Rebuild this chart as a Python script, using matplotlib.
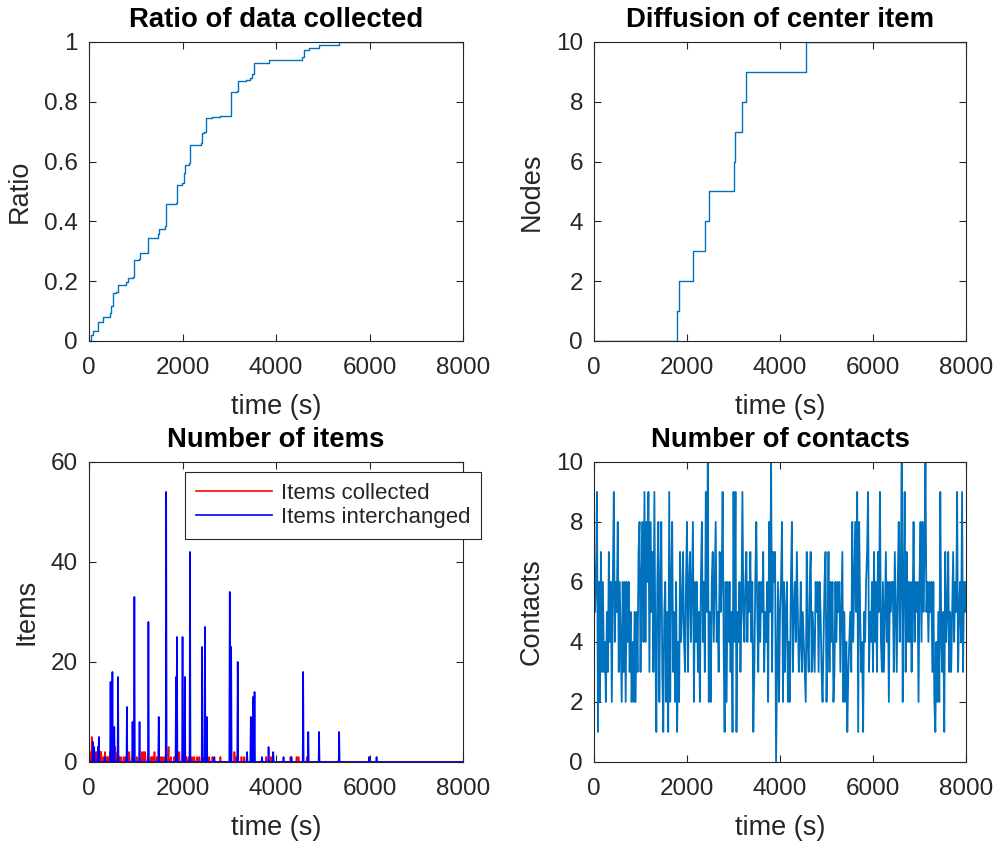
import numpy as np
import matplotlib
matplotlib.use("Agg")
import matplotlib.pyplot as plt

plt.rcParams['font.family'] = ['Liberation Sans', 'DejaVu Sans']

# ratio of data collected (step curve)
ratio_t = [0, 40, 86, 193, 300, 444, 480, 515, 587, 622, 801, 823, 930, 966, 1073, 1095,
           1252, 1267, 1467, 1495, 1631, 1646, 1860, 1882, 1997, 2039, 2061, 2140, 2161,
           2390, 2426, 2462, 2497, 2626, 2800, 3041, 3163, 3184, 3363, 3449, 3485, 3535,
           3807, 3843, 4308, 4558, 4594, 4701, 4916, 5345, 8000]
ratio = [0.0, 0.02, 0.035, 0.065, 0.08, 0.092, 0.117, 0.159, 0.165, 0.187, 0.198, 0.212,
         0.215, 0.27, 0.273, 0.293, 0.307, 0.344, 0.357, 0.373, 0.384, 0.457, 0.463, 0.523,
         0.529, 0.562, 0.588, 0.596, 0.654, 0.663, 0.694, 0.698, 0.744, 0.749, 0.752, 0.832,
         0.835, 0.869, 0.872, 0.881, 0.894, 0.928, 0.931, 0.939, 0.941, 0.948, 0.972, 0.981,
         0.989, 1.0, 1.0]

# diffusion of center item
diff_t = [0, 1789, 1832, 2132, 2397, 2469, 3005, 3034, 3177, 3263, 4565, 8000]
nodes = [0, 1, 2, 3, 4, 5, 6, 7, 8, 9, 10, 10]

# items collected (red) and interchanged (blue) events
coll_t = [22, 57, 79, 114, 150, 186, 235, 257, 307, 342, 378, 414, 449, 506, 556, 613, 649,
          685, 735, 777, 863, 934, 1020, 1134, 1170, 1205, 1255, 1326, 1362, 1405, 1448,
          1519, 1562, 1612, 1704, 1754, 1825, 1932, 2075, 2132, 2203, 2253, 2310, 2360,
          2432, 2517, 2574, 2645, 2809, 3109, 3145, 3259, 3323, 3501, 3786, 3893, 3886,
          4314, 4442, 4485, 4656]
coll_n = [2, 5, 4, 2, 2, 3, 2, 2, 1, 2, 1, 1, 2, 1, 3, 2, 1,
          1, 1, 1, 2, 1, 1, 2, 2, 2, 1, 1, 1, 2, 1,
          1, 1, 1, 3, 1, 1, 2, 1, 1, 1, 1, 1, 1,
          1, 1, 1, 1, 1, 2, 1, 1, 1, 1, 1, 1, 1,
          1, 1, 1, 1]
inter_t = [79, 110, 186, 207, 340, 458, 501, 537, 615, 809, 930, 973, 1081, 1267, 1488,
           1646, 1861, 1882, 2004, 2054, 2161, 2419, 2476, 2519, 2676, 3013, 3041, 3184,
           3378, 3463, 3506, 3542, 3700, 3836, 3943, 4158, 4329, 4580, 4694, 4916, 5353,
           5990, 6154]
inter_n = [4, 3, 3, 5, 1, 16, 18, 7, 17, 11, 8, 33, 8, 28, 9,
           54, 17, 25, 25, 17, 42, 23, 27, 9, 1, 34, 23, 20,
           2, 9, 13, 14, 1, 3, 2, 1, 1, 18, 6, 6, 6,
           1, 1]

# number of contacts, one sample per ~21 s
contacts = [
    7, 5, 6, 9, 1, 6, 2, 7, 3, 6, 3, 4, 2, 5, 3, 7, 4, 6, 2, 6, 9, 4, 6, 5, 8, 3, 6, 4, 2, 6,
    3, 6, 2, 6, 4, 6, 3, 5, 2, 4, 2, 5, 2, 5, 3, 7, 8, 3, 6, 8, 4, 9, 4, 8, 6, 9, 3, 8, 5, 7,
    3, 9, 4, 1, 6, 8, 2, 6, 8, 3, 1, 5, 6, 2,
    5, 1, 9, 2, 6, 8, 3, 5, 2, 6, 1, 4, 2, 7, 4, 5, 7, 4, 3, 6, 8, 3, 6, 7, 4, 6, 8, 2, 6, 4,
    6, 3, 5, 2, 6, 8, 4, 6, 3, 9, 5, 10, 2, 5, 2, 6, 7, 4, 6, 8, 4, 5, 3, 7, 5, 6, 9, 4, 1, 6,
    2, 6, 4, 6, 3, 5, 1, 9, 4, 9, 1, 5, 4, 6, 3, 5,
    9, 5, 4, 6, 7, 4, 6, 5, 7, 4, 6, 1, 3, 6, 8, 5, 3, 6, 4, 6, 5, 7, 3, 5, 4, 6, 2, 8, 5, 10,
    3, 7, 6, 7, 0, 3, 6, 2, 5, 6, 8, 2, 6, 3, 5, 6, 2, 4, 2, 6, 8, 3, 5, 6, 4, 7, 5, 3, 4, 6,
    3, 5, 4, 3, 2, 7, 4, 3, 6, 7, 3, 5, 4, 3, 6, 5,
    6, 3, 6, 5, 3, 2, 4, 6, 7, 2, 4, 7, 3, 6, 4, 6, 2, 3, 6, 4, 6, 5, 6, 3, 5, 7, 2, 5, 2, 4,
    1, 3, 4, 5, 3, 8, 4, 6, 8, 5, 9, 1, 8, 5, 3, 4, 1, 5, 4, 6, 7, 9, 3, 5, 4, 6, 3, 7, 4, 6,
    3, 7, 5, 9, 4, 3, 6, 3, 5, 7, 4, 6, 2, 6, 5, 6,
    6, 3, 7, 5, 3, 6, 8, 4, 6, 10, 2, 6, 9, 3, 7, 4, 6, 4, 6, 3, 5, 8, 4, 6, 5, 6, 2, 6, 8, 4,
    8, 5, 7, 10, 5, 6, 4, 6, 5, 6, 3, 6, 2, 1, 4, 2, 5, 2, 9, 4, 3, 5, 1, 7, 4, 5, 7, 3, 5, 3,
    5, 7, 4, 6, 5, 9, 3, 5, 6, 4, 9, 3, 6, 5, 6,
]

BLUE = '#0072BD'
DARK = '#262626'


def style(ax, xlabel, ylabel, title, ylim, yticks):
    ax.set_xlim(0, 8000)
    ax.set_ylim(*ylim)
    ax.set_xticks([0, 2000, 4000, 6000, 8000])
    ax.set_yticks(yticks)
    ax.set_xlabel(xlabel, fontsize=19.5, color=DARK, labelpad=11)
    ax.set_ylabel(ylabel, fontsize=19.5, color=DARK, labelpad=8)
    ax.set_title(title, fontsize=19.8, fontweight='bold', pad=11)
    ax.tick_params(direction='in', top=True, right=True, length=5, width=0.8,
                   labelsize=17.5, colors=DARK)
    ax.tick_params(axis='x', pad=11.5)
    ax.tick_params(axis='y', pad=8)
    for s in ax.spines.values():
        s.set_color(DARK)
        s.set_linewidth(0.8)


fig = plt.figure(figsize=(9.96, 8.44), dpi=100)
ax1 = fig.add_axes([0.0894, 0.5960, 0.3755, 0.3543])
ax2 = fig.add_axes([0.5964, 0.5960, 0.3735, 0.3543])
ax3 = fig.add_axes([0.0894, 0.0972, 0.3755, 0.3555])
ax4 = fig.add_axes([0.5964, 0.0972, 0.3735, 0.3555])

ax1.plot(ratio_t, ratio, drawstyle='steps-post', color=BLUE, lw=1.0)
style(ax1, 'time (s)', 'Ratio', 'Ratio of data collected', (0, 1),
      [0, 0.2, 0.4, 0.6, 0.8, 1])
ax1.set_yticklabels(['0', '0.2', '0.4', '0.6', '0.8', '1'])

ax2.plot(diff_t, nodes, drawstyle='steps-post', color=BLUE, lw=1.0)
style(ax2, 'time (s)', 'Nodes', 'Diffusion of center item', (0, 10), [0, 2, 4, 6, 8, 10])

# items on a 10 s grid
t_grid = np.arange(0, 8001, 10)
collected = np.zeros(len(t_grid))
interchanged = np.zeros(len(t_grid))
for t, n in zip(coll_t, coll_n):
    collected[int(round(t / 10))] = n
for t, n in zip(inter_t, inter_n):
    interchanged[int(round(t / 10))] = n

ax3.plot(t_grid, collected, color='r', lw=1.2, label='Items collected')
ax3.plot(t_grid, interchanged, color='b', lw=1.2, label='Items interchanged')
style(ax3, 'time (s)', 'Items', 'Number of items', (0, 60), [0, 20, 40, 60])
leg = ax3.legend(loc='upper left', bbox_to_anchor=(0.257, 0.967), borderaxespad=0,
                 fontsize=16, handlelength=3.4, handletextpad=0.4, labelspacing=0.15,
                 borderpad=0.5, fancybox=False, framealpha=1)
leg.get_frame().set_edgecolor(DARK)
leg.get_frame().set_linewidth(0.8)
for txt in leg.get_texts():
    txt.set_color(DARK)

t_contacts = np.linspace(0, 8000, len(contacts))
ax4.plot(t_contacts, contacts, color=BLUE, lw=1.3)
style(ax4, 'time (s)', 'Contacts', 'Number of contacts', (0, 10), [0, 2, 4, 6, 8, 10])

fig.savefig('out.png', dpi=100)
